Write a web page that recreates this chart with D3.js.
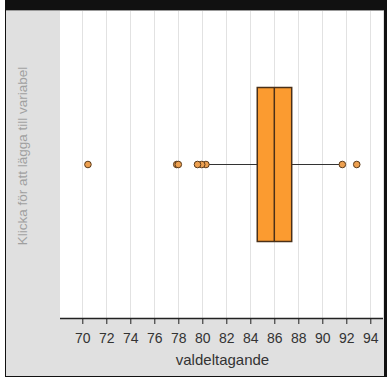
<!DOCTYPE html>
<html>
<head>
<meta charset="utf-8">
<script src="https://cdn.jsdelivr.net/npm/d3@7"></script>
<style>
  body { margin: 0; background: #fff; }
  svg { display: block; }
</style>
</head>
<body>
<svg></svg>
<script>
// box plot values
var boxStats = { q1: 84.58, median: 86.0, q3: 87.45, whiskerLow: 80.3, whiskerHigh: 91.67 };
var pointValues = [80.3, 79.95, 79.6, 91.67];
var outliers = [70.47, 77.87, 78.0, 92.87];
var tickValues = [70, 72, 74, 76, 78, 80, 82, 84, 86, 88, 90, 92, 94];
var xLabel = 'valdeltagande';
var yLabel = 'Klicka för att lägga till variabel';

var width = 387, height = 381;
var svg = d3.select('svg')
  .attr('width', width)
  .attr('height', height);

var plotLeft = 60, plotRight = 383, plotTop = 10, axisY = 318;

// frame
svg.append('rect').attr('x', 0).attr('y', 0).attr('width', width).attr('height', height).attr('fill', '#fff');
svg.append('rect').attr('x', 5).attr('y', 0).attr('width', width - 5).attr('height', 377).attr('fill', '#111');
svg.append('rect').attr('x', 6).attr('y', 10).attr('width', 378).attr('height', 366).attr('fill', '#e0e0e0');
svg.append('line').attr('x1', 6).attr('x2', 384).attr('y1', 10.5).attr('y2', 10.5).attr('stroke', '#999');
svg.append('rect').attr('x', plotLeft).attr('y', 11).attr('width', plotRight - plotLeft).attr('height', axisY - 11).attr('fill', '#fff');

var x = d3.scaleLinear()
  .domain([70 + (plotLeft - 82.3) / 12, 70 + (plotRight - 82.3) / 12])
  .range([plotLeft, plotRight]);

// grid
svg.append('g')
  .selectAll('line')
  .data(tickValues)
  .enter().append('line')
    .attr('x1', d => Math.round(x(d)) + 0.5)
    .attr('x2', d => Math.round(x(d)) + 0.5)
    .attr('y1', 11)
    .attr('y2', axisY)
    .attr('stroke', '#e2e2e2')
    .attr('stroke-width', 1)

// axis
var axis = d3.axisBottom(x).tickValues(tickValues).tickSize(6).tickPadding(9).tickFormat(d3.format('d'));
var axisG = svg.append('g')
  .attr('transform', 'translate(0,' + axisY + ')')
  .call(axis);
axisG.select('.domain').attr('d', 'M' + plotLeft + ',0.5H' + plotRight).attr('stroke', '#222').attr('stroke-width', 1.5);
axisG.selectAll('.tick line').attr('stroke', '#222');
axisG.selectAll('.tick text')
  .attr('fill', '#333')
  .attr('font-family', 'Arial, "Liberation Sans", sans-serif')
  .attr('font-size', 14);

svg.append('text')
  .attr('x', (plotLeft + plotRight) / 2 + 1)
  .attr('y', 365)
  .attr('text-anchor', 'middle')
  .attr('fill', '#333')
  .attr('font-family', 'Arial, "Liberation Sans", sans-serif')
  .attr('font-size', 15)
  .text(xLabel);

svg.append('text')
  .attr('transform', 'translate(27,156) rotate(-90)')
  .attr('text-anchor', 'middle')
  .attr('fill', '#a0a0a0')
  .attr('font-family', 'Arial, "Liberation Sans", sans-serif')
  .attr('font-size', 13.5)
  .text(yLabel);

// box plot
var cy = 164.5, boxTop = 87.5, boxBottom = 241.5;
var stroke = '#4a3018';

svg.append('line')
  .attr('x1', x(boxStats.whiskerLow)).attr('x2', x(boxStats.q1))
  .attr('y1', cy).attr('y2', cy)
  .attr('stroke', '#333').attr('stroke-width', 1);
svg.append('line')
  .attr('x1', x(boxStats.q3)).attr('x2', x(boxStats.whiskerHigh))
  .attr('y1', cy).attr('y2', cy)
  .attr('stroke', '#333').attr('stroke-width', 1);

svg.append('rect')
  .attr('x', x(boxStats.q1))
  .attr('y', boxTop)
  .attr('width', x(boxStats.q3) - x(boxStats.q1))
  .attr('height', boxBottom - boxTop)
  .attr('fill', '#fb9b30')
  .attr('stroke', stroke)
  .attr('stroke-width', 1.5);
svg.append('line')
  .attr('x1', x(boxStats.median)).attr('x2', x(boxStats.median))
  .attr('y1', boxTop).attr('y2', boxBottom)
  .attr('stroke', stroke).attr('stroke-width', 1.5);

svg.append('g')
  .selectAll('circle')
  .data(outliers.concat(pointValues))
  .enter().append('circle')
    .attr('cx', d => x(d))
    .attr('cy', cy)
    .attr('r', 3.3)
    .attr('fill', '#eda050')
    .attr('stroke', '#5a3a1a')
    .attr('stroke-width', 1)
</script>
</body>
</html>
